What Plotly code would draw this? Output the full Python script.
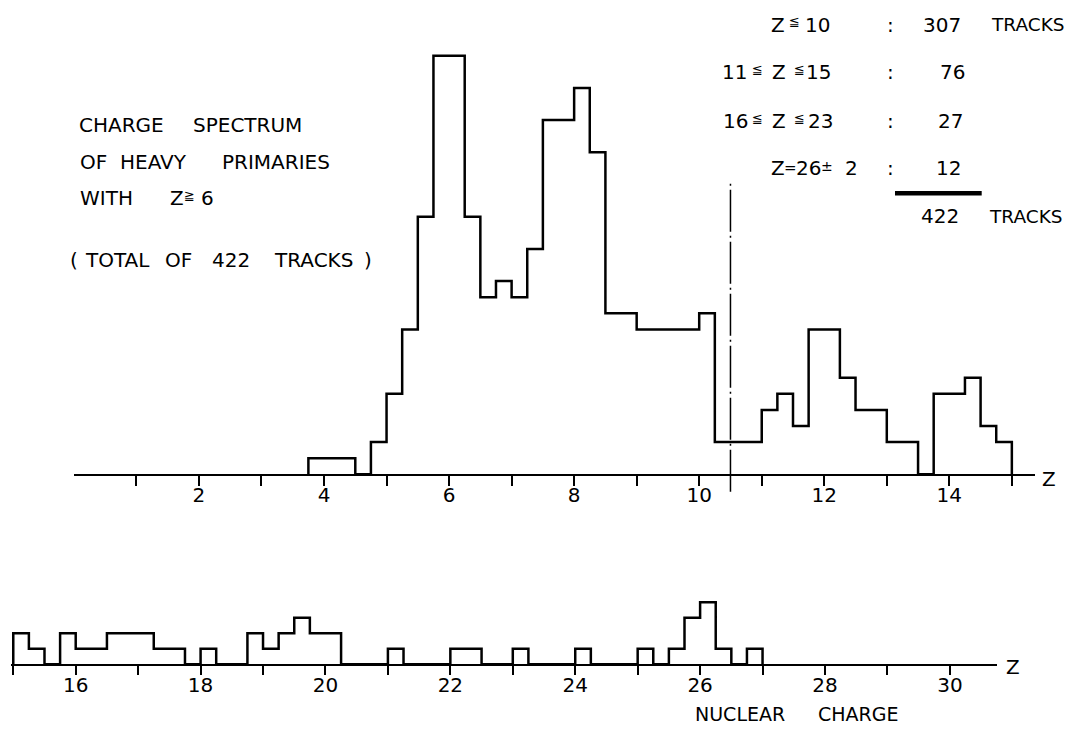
import plotly.graph_objects as go

# The page body has an 8 px margin, so the figure is drawn at (8, 8) in the window.
OFF = 8
W, H = 1073 - 2 * OFF, 735 - 2 * OFF
FONT = "DejaVu Sans"

# ---------------- data ----------------
# Upper panel (Z up to 15): bin edges and track counts per bin (per 1/4 charge unit)
top_edges = [3.75, 4.5, 4.75, 5.0, 5.25, 5.5, 5.75, 6.25, 6.5, 6.75, 7.0, 7.25, 7.5,
             8.0, 8.25, 8.5, 9.0, 10.0, 10.25, 11.0, 11.25, 11.5, 11.75, 12.25, 12.5,
             13.0, 13.5, 13.75, 14.25, 14.5, 14.75, 15.0]
top_counts = [1, 0, 2, 5, 9, 16, 26, 16, 11, 12, 11, 14, 22, 24, 20, 10, 9, 10, 2,
              4, 5, 3, 9, 6, 4, 2, 0, 5, 6, 3, 2]
top_ticks = list(range(1, 16))
top_tick_labels = ["" if z % 2 else str(z) for z in top_ticks]

# Lower panel (Z from 15 to 30)
bot_edges = [15.0, 15.25, 15.5, 15.75, 16.0, 16.5, 17.25, 17.75, 18.0, 18.25, 18.75,
             19.0, 19.25, 19.5, 19.75, 20.25, 21.0, 21.25, 22.0, 22.5, 23.0, 23.25,
             24.0, 24.25, 25.0, 25.25, 25.5, 25.75, 26.0, 26.25, 26.5, 26.75, 27.0]
bot_counts = [2, 1, 0, 2, 1, 2, 1, 0, 1, 0, 2, 1, 2, 3, 2, 0, 1, 0, 1, 0, 1, 0,
              1, 0, 1, 0, 1, 3, 4, 1, 0, 1]
bot_ticks = list(range(15, 31))
bot_tick_labels = ["" if z % 2 else str(z) for z in bot_ticks]

divider_z = 10.5

summary_ranges = ["Z ≦ 10", "11 ≦ Z ≦ 15", "16 ≦ Z ≦ 23", "Z = 26 ± 2"]
summary_tracks = ["307", "76", "27", "12"]
total_tracks = "422"

title_lines = ["CHARGE SPECTRUM", "OF HEAVY PRIMARIES", "WITH Z ≧ 6",
               "( TOTAL OF 422 TRACKS )"]
axis_title = "NUCLEAR CHARGE"


def step_path(edges, counts):
    xs = [edges[0]] + list(edges)
    ys = [0] + list(counts) + [0]
    return xs, ys


def px(x):
    return (x - OFF) / W


def py(y):
    return 1 - (y - OFF) / H


fig = go.Figure()
tx, ty = step_path(top_edges, top_counts)
fig.add_trace(go.Scatter(x=tx, y=ty, mode="lines", xaxis="x", yaxis="y",
                         line=dict(shape="hv", color="black", width=2.5),
                         hoverinfo="skip"))
bx, by = step_path(bot_edges, bot_counts)
fig.add_trace(go.Scatter(x=bx, y=by, mode="lines", xaxis="x2", yaxis="y2",
                         line=dict(shape="hv", color="black", width=2.5),
                         hoverinfo="skip"))

axis_style = dict(showline=True, linecolor="black", linewidth=2, ticks="outside",
                  tickcolor="black", tickwidth=2, showgrid=False, zeroline=False,
                  tickfont=dict(family=FONT, size=20, color="black"), fixedrange=True)

# pixel geometry (window pixels): top baseline 474.3, 16.1 px/count;
# bottom baseline 664.3, 15.5 px/count
top_base, top_unit, top_max = 474.3, 16.1, 27
bot_base, bot_unit, bot_max = 664.3, 15.5, 5

fig.update_layout(
    width=W, height=H, margin=dict(l=0, r=0, t=0, b=0),
    paper_bgcolor="white", plot_bgcolor="white", showlegend=False,
    xaxis=dict(domain=[px(73.9), px(1035)], range=[0, (1035 - 73.9) / 62.53], anchor="y",
               tickvals=top_ticks, ticktext=top_tick_labels, ticklen=10,
               ticklabelstandoff=-8, **axis_style),
    yaxis=dict(domain=[py(top_base), py(top_base - top_unit * top_max)], range=[0, top_max],
               visible=False, fixedrange=True),
    xaxis2=dict(domain=[px(11.4), px(996.7)], range=[14.97, 30.75], anchor="y2",
                tickvals=bot_ticks, ticktext=bot_tick_labels, ticklen=9,
                ticklabelstandoff=-7, **axis_style),
    yaxis2=dict(domain=[py(bot_base), py(bot_base - bot_unit * bot_max)], range=[0, bot_max],
                visible=False, fixedrange=True),
)

# dash-dot divider at Z = 10.5
fig.add_shape(type="line", xref="x", yref="paper", x0=divider_z, x1=divider_z,
              y0=py(491.7), y1=py(182), line=dict(color="black", width=1.5,
                                                   dash="42px,4px,2px,4px"))
# thick summation bar
fig.add_shape(type="line", xref="paper", yref="paper", x0=px(895), x1=px(981.7),
              y0=py(193.3), y1=py(193.3), line=dict(color="black", width=4.5))

ann = []
SMALL = {"≦": 13, "≧": 13, "±": 14, "=": 15}
RAISE = {"≦": -3, "≧": -3, "±": -2, "=": 0}


def txt(s, x, y, size=20, anchor="left"):
    if s in SMALL:
        y += RAISE[s]
        size = SMALL[s]
    ann.append(dict(text=s, x=px(x), y=py(y), xref="paper", yref="paper",
                    xanchor=anchor, yanchor="middle", showarrow=False,
                    font=dict(family=FONT, size=size, color="black")))


# left title block (word by word, widely spaced lettering)
title_x = [[76.7, 190.7], [78.3, 118.3, 220], [77.7, 176.5, 189.5, 207.5],
           [74, 83.3, 163.3, 210, 271.7, 368]]
title_y = [125, 162, 198.5, 260]
centered = {"(", ")", "Z", "≧", "6"}
for line, xs, y in zip(title_lines, title_x, title_y):
    for w, x in zip(line.split(" "), xs):
        txt(w, x, y, anchor="center" if w in centered else "left")

# summary table (token by token)
range_x = [[778.3, 794.5, 817], [734.5, 757.3, 779, 799, 818.5],
           [735.5, 757, 779, 799, 820.5], [777.5, 790.5, 808, 827, 851.7]]
row_y = [25, 72.5, 121, 167.5]
num_x = [941.7, 952.5, 950.8, 948.3]
for s, xs, y, n, nx in zip(summary_ranges, range_x, row_y, summary_tracks, num_x):
    for tok, x in zip(s.split(" "), xs):
        txt(tok, x, y, anchor="center")
    txt(":", 890, y, anchor="center")
    txt(n, nx, y, anchor="center")
txt("TRACKS", 989, 25, size=18.5)
txt(total_tracks, 940, 216, anchor="center")
txt("TRACKS", 986.7, 216, size=18.5)

# axis end labels and axis title
txt("Z", 1049, 479, anchor="center")
txt("Z", 1013, 667, anchor="center")
for w, x in zip(axis_title.split(" "), [693.3, 816]):
    txt(w, x, 714, size=19)

fig.update_layout(annotations=ann)
fig.write_html("out.html")
